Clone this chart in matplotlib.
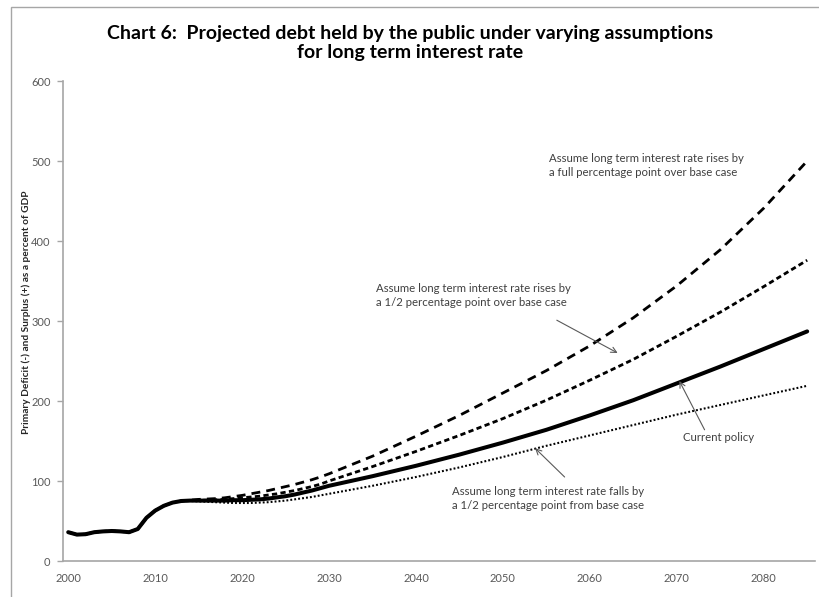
#!/usr/bin/env python3
"""Chart 6: projected debt held by the public under varying interest rate assumptions."""

import matplotlib
matplotlib.use("Agg")
import matplotlib.pyplot as plt
from matplotlib.patches import Rectangle

# history shared by all series (2000-2013)
hist_years = list(range(2000, 2014))
hist_debt = [36, 33, 33.5, 36, 37, 37.5, 37, 36, 40, 54, 63, 69, 73, 75]

# projection years: annual to 2030, then every 5 years
proj_years = list(range(2014, 2031)) + list(range(2035, 2086, 5))

current_policy = [75.5, 75.5, 75.5, 75.5, 75.5, 76, 76, 76.5, 77, 78, 79.5, 81, 83, 85.5, 88, 91, 94,
                  106, 119, 133, 148, 164, 182, 201, 222, 243, 265, 287]
rate_up_full = [76, 77, 77.5, 78, 79, 80.5, 82, 84, 86, 88, 90.5, 93, 95.5, 98.5, 101.5, 105, 109,
                131, 156, 182, 210, 238, 269, 304, 344, 389, 441, 500]
rate_up_half = [75.5, 76, 76, 76.5, 77, 78, 79, 80, 81, 82.5, 84, 86, 88, 90.5, 93, 96, 100,
                118, 137, 157, 178, 201, 226, 252, 281, 311, 343, 376]
rate_down_half = [75, 74.5, 74, 73.5, 73, 72.5, 72.5, 72.5, 73, 73.5, 74.5, 75.5, 77, 78.5, 80, 82, 84,
                  94, 105, 117, 130, 144, 157, 170, 183, 195, 207, 219]

x_ticks = list(range(2000, 2081, 10))
y_ticks = list(range(0, 601, 100))

title = ("Chart 6:  Projected debt held by the public under varying assumptions\n"
         "for long term interest rate")
y_label = "Primary Deficit (-) and Surplus (+) as a percent of GDP"

FONT = "Lato"
GRAY = "#a6a6a6"
TXT = "#404040"

fig = plt.figure(figsize=(8.2, 5.97), dpi=100)
ax = fig.add_axes([63 / 820, 1 - 561 / 597, (815 - 63) / 820, (561 - 81) / 597])

# frame round the whole chart
fig.patches.append(Rectangle((11 / 820, -0.2), 1.2, 1.2 - 7 / 597,
                             transform=fig.transFigure, fill=False,
                             edgecolor=GRAY, lw=1.0, clip_on=False))

years = hist_years + proj_years
ax.plot(years, hist_debt + rate_up_full, color="black", lw=2.0,
        linestyle=(0, (3.2, 2.2)))
ax.plot(years, hist_debt + rate_up_half, color="black", lw=2.0,
        linestyle=(0, (1.9, 1.2)))
ax.plot(years, hist_debt + rate_down_half, color="black", lw=1.5,
        linestyle=(0, (0.9, 1.0)))
ax.plot(years, hist_debt + current_policy, color="black", lw=2.9,
        solid_capstyle="round")

ax.set_xlim(1999.4, 2085.9)
ax.set_ylim(0, 600)
ax.set_xticks(x_ticks)
ax.set_yticks(y_ticks)
ax.tick_params(axis="x", length=0, pad=9, labelsize=8, labelcolor="#595959")
ax.tick_params(axis="y", length=4, width=1, color=GRAY, pad=5, labelsize=8,
               labelcolor="#595959")
for lab in ax.get_xticklabels() + ax.get_yticklabels():
    lab.set_fontfamily(FONT)
for side in ("top", "right"):
    ax.spines[side].set_visible(False)
for side in ("left", "bottom"):
    ax.spines[side].set_color(GRAY)
    ax.spines[side].set_linewidth(1.2)

fig.text(26 / 820, 1 - 312 / 597, y_label, rotation=90, ha="center", va="center",
         fontsize=7.3, fontweight="bold", color="#262626", family=FONT)
fig.text(0.5, 1 - 43 / 597, title, ha="center", va="center", fontsize=14.0,
         fontweight="bold", color="black", family=FONT, linespacing=1.15)

ann = dict(fontsize=8.2, color=TXT, family=FONT, va="top", ha="left", linespacing=1.35)
arrow = dict(arrowstyle="->", color="#595959", lw=0.8, shrinkA=0, shrinkB=0)

ax.text(2055.3, 510, "Assume long term interest rate rises by\na full percentage point over base case",
        **ann)
ax.text(2035.4, 348, "Assume long term interest rate rises by\na 1/2 percentage point over base case",
        **ann)
ax.annotate("", xy=(2063.2, 260), xytext=(2056.2, 301), arrowprops=arrow)
ax.text(2070.7, 161, "Current policy", **ann)
ax.annotate("", xy=(2070.3, 225), xytext=(2073.2, 164), arrowprops=arrow)
ax.text(2044.2, 94, "Assume long term interest rate falls by\na 1/2 percentage point from base case",
        **ann)
ax.annotate("", xy=(2053.7, 141), xytext=(2057.1, 105), arrowprops=arrow)

fig.savefig("out.png", dpi=100)
